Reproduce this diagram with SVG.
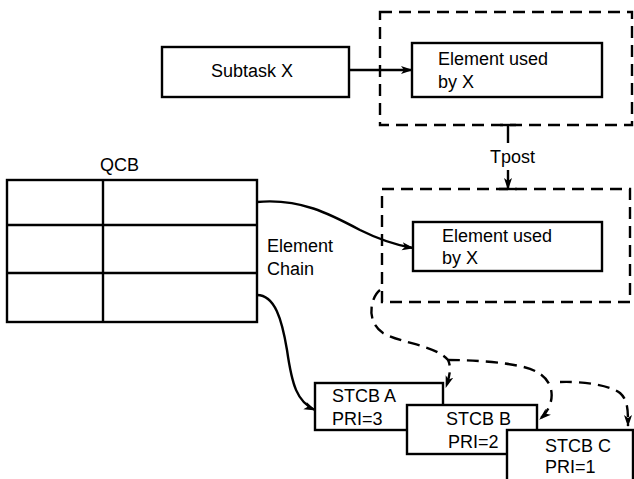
<svg xmlns="http://www.w3.org/2000/svg" width="634" height="479" viewBox="0 0 634 479">
<style>
.box{fill:#fff;stroke:#000;stroke-width:2.4}
.dash{fill:none;stroke:#000;stroke-width:2.4;stroke-dasharray:12 7}
.ln{fill:none;stroke:#000;stroke-width:2.4}
.dl{fill:none;stroke:#000;stroke-width:2.4;stroke-dasharray:12 7}
text{font-family:"Liberation Sans",Arial,sans-serif;font-size:18px;fill:#000}
</style>
<defs>
<marker id="ah" markerWidth="12" markerHeight="10" refX="11" refY="5" orient="auto" markerUnits="userSpaceOnUse">
<path d="M0,1 L12,5 L0,9 L3,5 Z" fill="#000"/>
</marker>
</defs>
<rect width="634" height="479" fill="#fff"/>
<g id="group-top">
<rect class="dash" x="380" y="12" width="252" height="113"/>
</g>
<g id="group-bottom">
<rect class="dash" x="382" y="189" width="248" height="113"/>
</g>
<g id="subtask">
<rect class="box" x="162" y="47" width="187" height="50"/>
<text x="211" y="77">Subtask X</text>
</g>
<g id="element-top">
<rect class="box" x="412" y="43" width="190" height="54"/>
<text x="438" y="65">Element used</text>
<text x="438" y="88">by X</text>
</g>
<g id="element-bottom">
<rect class="box" x="413" y="222" width="189" height="49"/>
<text x="442" y="242">Element used</text>
<text x="442" y="264">by X</text>
</g>
<g id="qcb">
<text x="100" y="171">QCB</text>
<rect class="box" x="7" y="180" width="250" height="142"/>
<line class="ln" x1="7" y1="225" x2="257" y2="225"/>
<line class="ln" x1="7" y1="273" x2="257" y2="273"/>
<line class="ln" x1="103" y1="180" x2="103" y2="322"/>
</g>
<g id="label-chain">
<text x="267" y="252">Element</text>
<text x="267" y="275">Chain</text>
</g>
<g id="stcb-a">
<rect class="box" x="315" y="383" width="128" height="47"/>
<text x="332" y="402">STCB A</text>
<text x="332" y="425">PRI=3</text>
</g>
<g id="stcb-b">
<rect class="box" x="407" y="405" width="130" height="49"/>
<text x="446" y="425">STCB B</text>
<text x="448" y="448">PRI=2</text>
</g>
<g id="stcb-c">
<rect class="box" x="507" y="430" width="126" height="60"/>
<text x="545" y="452">STCB C</text>
<text x="545" y="473">PRI=1</text>
</g>
<g id="connectors">
<line class="ln" x1="349" y1="70" x2="412" y2="70" marker-end="url(#ah)"/>
<line class="ln" x1="500" y1="125" x2="516" y2="125"/>
<line class="ln" x1="508" y1="125" x2="508" y2="143"/>
<text x="490" y="163" font-size="16">Tpost</text>
<line class="ln" x1="508" y1="170" x2="508" y2="189" marker-end="url(#ah)"/>
<line class="ln" x1="499" y1="189" x2="517" y2="189"/>
<path class="ln" d="M257,202 C300,198 330,214 360,230 C380,240 395,245 413,248" marker-end="url(#ah)"/>
<path class="ln" d="M257,295 C275,295 282,320 287,350 C292,385 297,402 315,410" marker-end="url(#ah)"/>
<path class="dl" d="M380,290 C370,298 366,322 383,333 C400,343 435,345 448,360 C452,368 449,378 446,387" marker-end="url(#ah)"/>
<path class="dl" d="M448,360 C470,360 520,362 537,372 C556,382 556,405 540,419" marker-end="url(#ah)"/>
<path class="dl" d="M560,382 C580,381 610,385 620,393 C628,400 628,410 628,426" marker-end="url(#ah)"/>
</g>
</svg>
